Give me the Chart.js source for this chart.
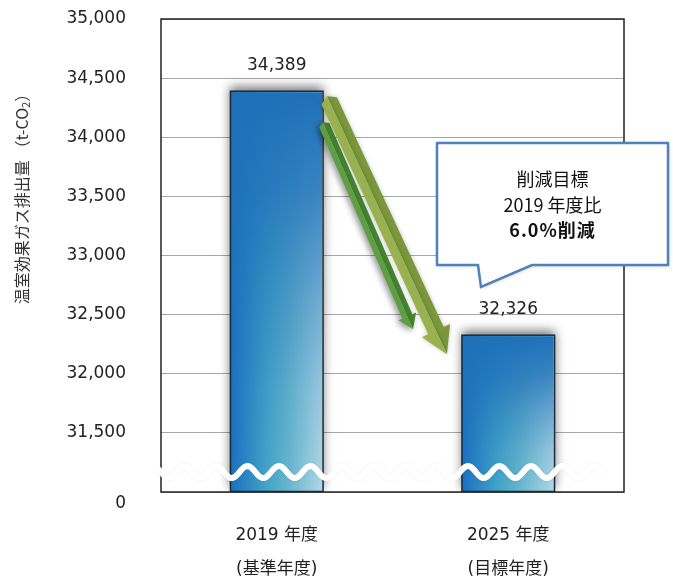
<!DOCTYPE html>
<html>
<head>
<meta charset="utf-8">
<script src="https://cdn.jsdelivr.net/npm/chart.js@4/dist/chart.umd.min.js"></script>
<style>
  html, body { margin: 0; padding: 0; background: #fff; }
  canvas { display: block; }
</style>
</head>
<body>
<canvas id="emission-chart" width="673" height="579"></canvas>
<script>
// chart values
var years = [['2019 年度', '(基準年度)'], ['2025 年度', '(目標年度)']];
var emissions = [34389, 32326];
var axisMin = 31000;
var axisMax = 35000;
var axisStep = 500;
var yTitle = '温室効果ガス排出量 （t-CO';
var calloutLines = ['削減目標', '2019 年度比', '6.0%削減'];

var numFont = '"DejaVu Sans", "Noto Sans CJK JP", sans-serif';
var jpFont = '"Noto Sans CJK JP", sans-serif';
var barPct = 0.4;

/**
 * Horizontal gradient for each bar.
 */
function barFill(context) {
    var chart = context.chart;
    if (!chart.chartArea) {
        return '#2a7cc0';
    }
    var xScale = chart.scales.x;
    var cx = xScale.getPixelForValue(context.dataIndex);
    var half = xScale.width / years.length * barPct / 2;
    var g = chart.ctx.createLinearGradient(cx - half, 0, cx + half, 0);
    g.addColorStop(0, '#1a6fc0');
    g.addColorStop(0.38, '#42a3c8');
    g.addColorStop(0.62, '#66b6cd');
    g.addColorStop(1, '#b2d9e6');
    return g;
}

function drawArrow(c, x0, y0, x1, y1, shaftW, headW, headL, darkCol, lightCol) {
    var len = Math.hypot(x1 - x0, y1 - y0);
    var s = shaftW / 2, h = headW / 2, L = len - headL;
    c.save();
    c.translate(x0, y0);
    c.rotate(Math.atan2(y1 - y0, x1 - x0));
    // right side of the arrow on screen
    c.fillStyle = darkCol;
    c.beginPath();
    c.moveTo(s * 0.6, -s);
    c.lineTo(L, -s);
    c.lineTo(L, -h);
    c.lineTo(len, 0);
    c.lineTo(0, 0);
    c.closePath();
    c.fill();
    // left side
    c.fillStyle = lightCol;
    c.beginPath();
    c.moveTo(0, 0);
    c.lineTo(len, 0);
    c.lineTo(L, h);
    c.lineTo(L, s);
    c.lineTo(s * 0.6, s);
    c.closePath();
    c.fill();
    c.restore();
}

var decorations = {
    id: 'decorations',
    beforeDatasetsDraw: function (chart) {
        var c = chart.ctx, a = chart.chartArea;
        c.save();
        c.strokeStyle = '#222';
        c.lineWidth = 1.5;
        c.strokeRect(a.left, a.top, a.right - a.left, a.bottom - a.top);
        c.restore();
        // bar shadow
        c.save();
        c.shadowColor = 'rgba(0,0,0,0.55)';
        c.shadowBlur = 10;
        c.shadowOffsetY = -4;
    },
    afterDatasetsDraw: function (chart) {
        var c = chart.ctx, a = chart.chartArea;
        c.restore();
        var bars = chart.getDatasetMeta(0).data;

        // dark top fading down over each bar
        bars.forEach(function (bar) {
            var p = bar.getProps(['x', 'y', 'base', 'width'], true);
            var g = c.createLinearGradient(0, p.y, 0, p.base);
            g.addColorStop(0, 'rgba(30,112,184,1)');
            g.addColorStop(0.25, 'rgba(30,112,184,0.8)');
            g.addColorStop(0.5, 'rgba(30,112,184,0.45)');
            g.addColorStop(0.75, 'rgba(30,112,184,0.15)');
            g.addColorStop(1, 'rgba(30,112,184,0)');
            c.save();
            c.fillStyle = g;
            c.fillRect(p.x - p.width / 2 + 1, p.y + 1, p.width - 2, p.base - p.y - 2);
            c.strokeStyle = '#1b2a38';
            c.lineWidth = 1.5;
            c.strokeRect(p.x - p.width / 2, p.y, p.width, p.base - p.y);
            c.restore();
        });

        // broken axis wave
        var wy = a.bottom - 20;
        var first = bars[0].getProps(['x', 'width'], true);
        var x0 = first.x - first.width / 2 + 17;
        c.save();
        c.strokeStyle = '#fff';
        c.lineWidth = 6;
        c.shadowColor = 'rgba(0,0,0,0.08)';
        c.shadowBlur = 3;
        c.beginPath();
        for (var x = a.left - 3; x <= a.right - 22; x += 1) {
            var yy = wy - 6 * Math.cos(2 * Math.PI * (x - x0) / 31.5);
            if (x === a.left - 3) {
                c.moveTo(x, yy);
            } else {
                c.lineTo(x, yy);
            }
        }
        c.stroke();
        c.restore();

        // value labels
        c.save();
        c.font = '17px ' + numFont;
        c.fillStyle = '#222';
        c.textAlign = 'center';
        c.textBaseline = 'middle';
        bars.forEach(function (bar, i) {
            var p = bar.getProps(['x', 'y'], true);
            c.fillText(emissions[i].toLocaleString('en-US'), p.x, p.y - 26);
        });
        c.restore();

        // arrows
        var b1 = bars[0].getProps(['x', 'y', 'width'], true);
        var b2 = bars[1].getProps(['x', 'y', 'width'], true);
        var b1r = b1.x + b1.width / 2;
        var b2l = b2.x - b2.width / 2;
        c.save();
        c.shadowColor = 'rgba(0,0,0,0.45)';
        c.shadowBlur = 6;
        c.shadowOffsetX = -2;
        c.shadowOffsetY = 2;
        drawArrow(c, b1r, b1.y + 31, b2l - 49, b2.y - 6, 11, 19, 14, '#44852f', '#5f9f44');
        c.restore();
        c.save();
        c.shadowColor = 'rgba(0,0,0,0.25)';
        c.shadowBlur = 4;
        drawArrow(c, b1r + 4, b1.y + 5, b2l - 15, b2.y + 19, 17, 31, 26, '#7a983a', '#97b24f');
        c.restore();
    },
    afterDraw: function (chart) {
        var c = chart.ctx, a = chart.chartArea;

        // callout box
        var L = a.right - 187, R = a.right + 44, T = a.top + 124, B = a.top + 246;
        c.save();
        c.shadowColor = 'rgba(0,0,0,0.2)';
        c.shadowBlur = 4;
        c.shadowOffsetX = 1;
        c.shadowOffsetY = 1;
        c.beginPath();
        c.moveTo(L, T);
        c.lineTo(R, T);
        c.lineTo(R, B);
        c.lineTo(L + 95, B);
        c.lineTo(L + 44, B + 22);
        c.lineTo(L + 41, B);
        c.lineTo(L, B);
        c.closePath();
        c.fillStyle = '#fff';
        c.fill();
        c.shadowColor = 'transparent';
        c.strokeStyle = '#4f81bd';
        c.lineWidth = 2.5;
        c.lineJoin = 'miter';
        c.stroke();
        c.fillStyle = '#111';
        c.textAlign = 'center';
        c.textBaseline = 'middle';
        var cx = (L + R) / 2;
        c.font = '18px ' + jpFont;
        c.fillText(calloutLines[0], cx, T + 36);
        c.fillText(calloutLines[1], cx, T + 62);
        c.font = 'bold 18px ' + jpFont;
        c.letterSpacing = '1px';
        c.fillText(calloutLines[2], cx, T + 87);
        c.restore();

        // y axis title, drawn vertically
        c.save();
        c.translate(22, 195);
        c.rotate(-Math.PI / 2);
        c.fillStyle = '#333';
        c.textBaseline = 'middle';
        c.font = '16px ' + jpFont;
        var w1 = c.measureText(yTitle).width;
        c.font = '11px ' + jpFont;
        var w2 = c.measureText('2').width;
        c.font = '16px ' + jpFont;
        var w3 = c.measureText('）').width;
        var start = -(w1 + w2 + w3) / 2;
        c.textAlign = 'left';
        c.fillText(yTitle, start, 0);
        c.font = '11px ' + jpFont;
        c.fillText('2', start + w1, 4);
        c.font = '16px ' + jpFont;
        c.fillText('）', start + w1 + w2, 0);
        c.restore();
    }
};

var ctx = document.getElementById('emission-chart');
var chart = new Chart(ctx, {
    type: 'bar',
    data: {
        labels: years,
        datasets: [{
            data: emissions,
            backgroundColor: barFill,
            borderColor: '#1b2a38',
            borderWidth: 0,
            barPercentage: barPct,
            categoryPercentage: 1,
            base: axisMin
        }]
    },
    options: {
        responsive: false,
        animation: false,
        layout: {
            padding: {top: 19, right: 49, bottom: 0, left: 0}
        },
        plugins: {
            legend: {display: false},
            tooltip: {enabled: false}
        },
        scales: {
            x: {
                grid: {display: false, drawTicks: false},
                border: {display: false},
                ticks: {
                    color: '#222',
                    padding: 27,
                    font: {family: numFont, size: 17, lineHeight: 1.97}
                },
                afterFit: function (scale) {
                    scale.height = 87;
                }
            },
            y: {
                min: axisMin,
                max: axisMax,
                grid: {color: '#a6a6a6', lineWidth: 1, drawTicks: false},
                border: {display: false},
                ticks: {
                    stepSize: axisStep,
                    color: '#222',
                    padding: 35,
                    font: {family: numFont, size: 17, lineHeight: 1.4},
                    callback: function (v) {
                        if (v === axisMin) {
                            return ['', '0'];
                        }
                        return v.toLocaleString('en-US');
                    }
                },
                afterFit: function (scale) {
                    scale.width = 161;
                    scale.paddingTop = 0;
                    scale.paddingBottom = 0;
                }
            }
        }
    },
    plugins: [decorations]
});
</script>
</body>
</html>
